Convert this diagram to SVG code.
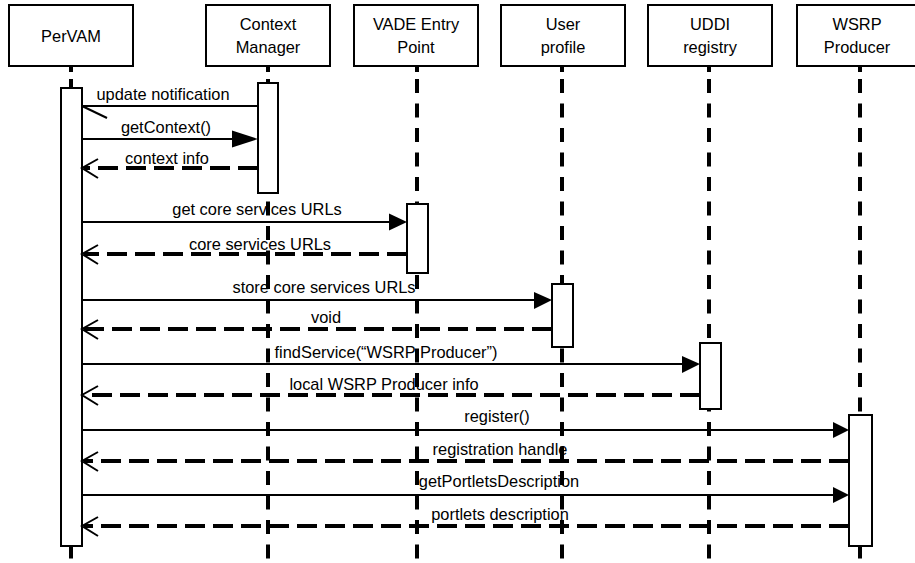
<svg xmlns="http://www.w3.org/2000/svg" width="915" height="563" viewBox="0 0 915 563">
<style>
.box{fill:#fff;stroke:#000;stroke-width:2}
.act{fill:#fff;stroke:#000;stroke-width:2}
.life{stroke:#000;stroke-width:4;stroke-dasharray:14 10.5;fill:none}
.tick{stroke:#000;stroke-width:4}
.lbl{font-family:"Liberation Sans",Arial,sans-serif;font-size:16.4px;fill:#000;text-anchor:middle}
.msg{stroke:#000;stroke-width:2;fill:none}
.ret{stroke:#000;stroke-width:4;stroke-dasharray:20 8;fill:none}
.head{fill:#000;stroke:none}
.open{stroke:#000;stroke-width:2;fill:none}
</style>
<rect width="915" height="563" fill="#fff"/>
<g id="lifelines">
<line class="tick" x1="71" y1="66" x2="71" y2="72"/><line class="life" x1="71" y1="79" x2="71" y2="563"/>
<line class="tick" x1="268" y1="66" x2="268" y2="72"/><line class="life" x1="268" y1="79" x2="268" y2="563"/>
<line class="tick" x1="417" y1="66" x2="417" y2="72"/><line class="life" x1="417" y1="79" x2="417" y2="563"/>
<line class="tick" x1="562" y1="66" x2="562" y2="72"/><line class="life" x1="562" y1="79" x2="562" y2="563"/>
<line class="tick" x1="709" y1="66" x2="709" y2="72"/><line class="life" x1="709" y1="79" x2="709" y2="563"/>
<line class="tick" x1="860" y1="66" x2="860" y2="72"/><line class="life" x1="860" y1="79" x2="860" y2="563"/>
</g>
<g id="PerVAM">
<rect class="box" x="9" y="5" width="124" height="61"/>
<text class="lbl" x="71" y="42">PerVAM</text>
<rect class="act" x="61" y="88" width="21" height="458"/>
</g>
<g id="ContextManager">
<rect class="box" x="206" y="5" width="124" height="61"/>
<text class="lbl" x="268" y="30">Context</text>
<text class="lbl" x="268" y="53">Manager</text>
<rect class="act" x="258" y="83" width="20" height="110"/>
</g>
<g id="VADEEntryPoint">
<rect class="box" x="354" y="5" width="124" height="61"/>
<text class="lbl" x="416" y="30">VADE Entry</text>
<text class="lbl" x="416" y="53">Point</text>
<rect class="act" x="407" y="204" width="21" height="69"/>
</g>
<g id="UserProfile">
<rect class="box" x="501" y="5" width="124" height="61"/>
<text class="lbl" x="563" y="30">User</text>
<text class="lbl" x="563" y="53">profile</text>
<rect class="act" x="552" y="284" width="21" height="63"/>
</g>
<g id="UDDIRegistry">
<rect class="box" x="648" y="5" width="124" height="61"/>
<text class="lbl" x="710" y="30">UDDI</text>
<text class="lbl" x="710" y="53">registry</text>
<rect class="act" x="700" y="343" width="21" height="66"/>
</g>
<g id="WSRPProducer">
<rect class="box" x="797" y="5" width="124" height="61"/>
<text class="lbl" x="857" y="30">WSRP</text>
<text class="lbl" x="857" y="53">Producer</text>
<rect class="act" x="849" y="415" width="23" height="131"/>
</g>
<g id="connectors">
<!-- update notification -->
<line class="msg" x1="258" y1="106" x2="82" y2="106"/>
<line class="open" x1="82" y1="106" x2="107" y2="118"/>
<text class="lbl" x="163" y="100">update notification</text>
<!-- getContext -->
<line class="msg" x1="82" y1="139" x2="240" y2="139"/>
<polygon class="head" points="258,139 232,130.5 232,147.5"/>
<text class="lbl" x="166" y="133">getContext()</text>
<!-- context info -->
<line class="ret" x1="258" y1="168" x2="84" y2="168"/>
<polyline class="open" points="98,159 82,168 98,178"/>
<text class="lbl" x="167" y="164">context info</text>
<!-- get core services URLs -->
<line class="msg" x1="82" y1="222" x2="395" y2="222"/>
<polygon class="head" points="407,222 389,213.5 389,230.5"/>
<text class="lbl" x="257" y="215">get core services URLs</text>
<!-- core services URLs -->
<line class="ret" x1="407" y1="254" x2="84" y2="254"/>
<polyline class="open" points="98,245 82,254 98,264"/>
<text class="lbl" x="260" y="250">core services URLs</text>
<!-- store core services URLs -->
<line class="msg" x1="82" y1="300" x2="540" y2="300"/>
<polygon class="head" points="552,300 534,292 534,309"/>
<text class="lbl" x="324" y="293">store core services URLs</text>
<!-- void -->
<line class="ret" x1="552" y1="329" x2="84" y2="329"/>
<polyline class="open" points="98,320 82,329 98,339"/>
<text class="lbl" x="326" y="323">void</text>
<!-- findService -->
<line class="msg" x1="82" y1="364" x2="688" y2="364"/>
<polygon class="head" points="700,364 682,356 682,373"/>
<text class="lbl" x="386" y="358">findService(“WSRP Producer”)</text>
<!-- local WSRP Producer info -->
<line class="ret" x1="700" y1="395" x2="84" y2="395"/>
<polyline class="open" points="98,386 82,395 98,405"/>
<text class="lbl" x="384" y="390">local WSRP Producer info</text>
<!-- register -->
<line class="msg" x1="82" y1="430" x2="837" y2="430"/>
<polygon class="head" points="849,430 833,422 833,438"/>
<text class="lbl" x="497" y="422">register()</text>
<!-- registration handle -->
<line class="ret" x1="849" y1="461" x2="84" y2="461"/>
<polyline class="open" points="98,452 82,461 98,471"/>
<text class="lbl" x="500" y="455">registration handle</text>
<!-- getPortletsDescription -->
<line class="msg" x1="82" y1="495" x2="837" y2="495"/>
<polygon class="head" points="849,495 833,487 833,503"/>
<text class="lbl" x="499" y="487">getPortletsDescription</text>
<!-- portlets description -->
<line class="ret" x1="849" y1="526" x2="84" y2="526"/>
<polyline class="open" points="98,517 82,526 98,536"/>
<text class="lbl" x="500" y="520">portlets description</text>
</g>
</svg>
